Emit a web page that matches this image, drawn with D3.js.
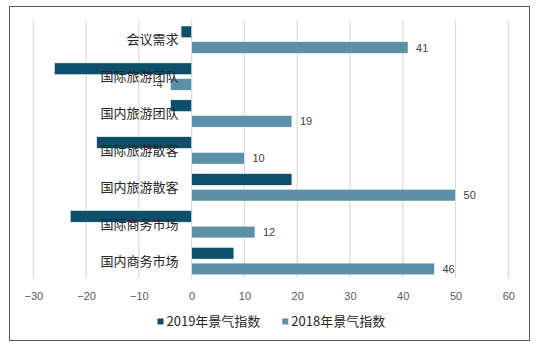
<!DOCTYPE html>
<html><head><meta charset="utf-8">
<script src="https://cdn.jsdelivr.net/npm/d3@7"></script>
<style>
html,body{margin:0;padding:0;background:#fff;}
svg{display:block;font-family:"Noto Sans CJK SC","Noto Sans",sans-serif;}
</style></head>
<body><svg id="c" width="546" height="349"></svg>
<script>
const categories = ["会议需求","国际旅游团队","国内旅游团队","国际旅游散客","国内旅游散客","国际商务市场","国内商务市场"];
const values2019 = [-2,-26,-4,-18,19,-23,8];
const values2018 = [41,-4,19,10,50,12,46];
const seriesNames = ["2019年景气指数","2018年景气指数"];
const xTicks = [-30,-20,-10,0,10,20,30,40,50,60];
const colors = ["#0e4f6b","#5b90a8"];

const svg = d3.select("#c");
svg.append("rect").attr("x",9.5).attr("y",6.5).attr("width",520).attr("height",334)
  .attr("fill","#fff").attr("stroke","#595959").attr("stroke-width",1);

const x = d3.scaleLinear().domain([-30,60]).range([33.3,508.3]);
const y = d3.scaleBand().domain(categories).range([21.2,279.5]);
const bw = 11.7, off1 = 4.8, off2 = 4.8+11.7+4;

// gridlines
svg.append("g").selectAll("line").data(xTicks).join("line")
  .attr("x1",d=>x(d)).attr("x2",d=>x(d)).attr("y1",20.5).attr("y2",278)
  .attr("stroke","#d9d9d9").attr("stroke-width",1.2);

// axis labels
const axis = d3.axisBottom(x).tickValues(xTicks).tickSize(0).tickPadding(0);
const ag = svg.append("g").attr("transform","translate(0,300)").call(axis);
ag.select(".domain").remove();
ag.selectAll("text").attr("fill","#595959").attr("font-size",11).attr("dy",0)
  .attr("font-family","'Liberation Sans',Arial,sans-serif");

// bars
const g19 = svg.append("g");
g19.selectAll("rect").data(categories).join("rect")
  .attr("x",(d,i)=>x(Math.min(0,values2019[i])))
  .attr("width",(d,i)=>Math.abs(x(values2019[i])-x(0)))
  .attr("y",d=>y(d)+off1).attr("height",bw)
  .attr("fill",colors[0]).attr("stroke","#fff").attr("stroke-width",0.5);
const g18 = svg.append("g");
g18.selectAll("rect").data(categories).join("rect")
  .attr("x",(d,i)=>x(Math.min(0,values2018[i])))
  .attr("width",(d,i)=>Math.abs(x(values2018[i])-x(0)))
  .attr("y",d=>y(d)+off2).attr("height",bw)
  .attr("fill",colors[1]).attr("stroke","#fff").attr("stroke-width",0.5);

// value labels (2018)
svg.append("g").selectAll("text").data(categories).join("text")
  .attr("x",(d,i)=>values2018[i]>=0 ? x(values2018[i])+8 : x(values2018[i])-8)
  .attr("text-anchor",(d,i)=>values2018[i]>=0?"start":"end")
  .attr("y",d=>y(d)+off2+bw/2).attr("dy","0.36em")
  .attr("font-size",11).attr("fill","#404040")
  .attr("font-family","'Liberation Sans',Arial,sans-serif")
  .text((d,i)=>values2018[i]);

// category labels
svg.append("g").selectAll("text").data(categories).join("text")
  .attr("x",178.5).attr("text-anchor","end")
  .attr("y",d=>y(d)+y.bandwidth()/2).attr("dy","0.36em")
  .attr("font-size",13).attr("fill","#262626")
  .text(d=>d);

// legend
const lg = svg.append("g");
const legX = [157.5,282.3];
seriesNames.forEach((s,i)=>{
  lg.append("rect").attr("x",legX[i]).attr("y",318.5).attr("width",6).attr("height",6).attr("fill",colors[i]);
  lg.append("text").attr("x",legX[i]+9).attr("y",321.7).attr("dy","0.36em")
    .attr("font-size",13).attr("fill","#262626").text(s);
});
</script></body></html>
